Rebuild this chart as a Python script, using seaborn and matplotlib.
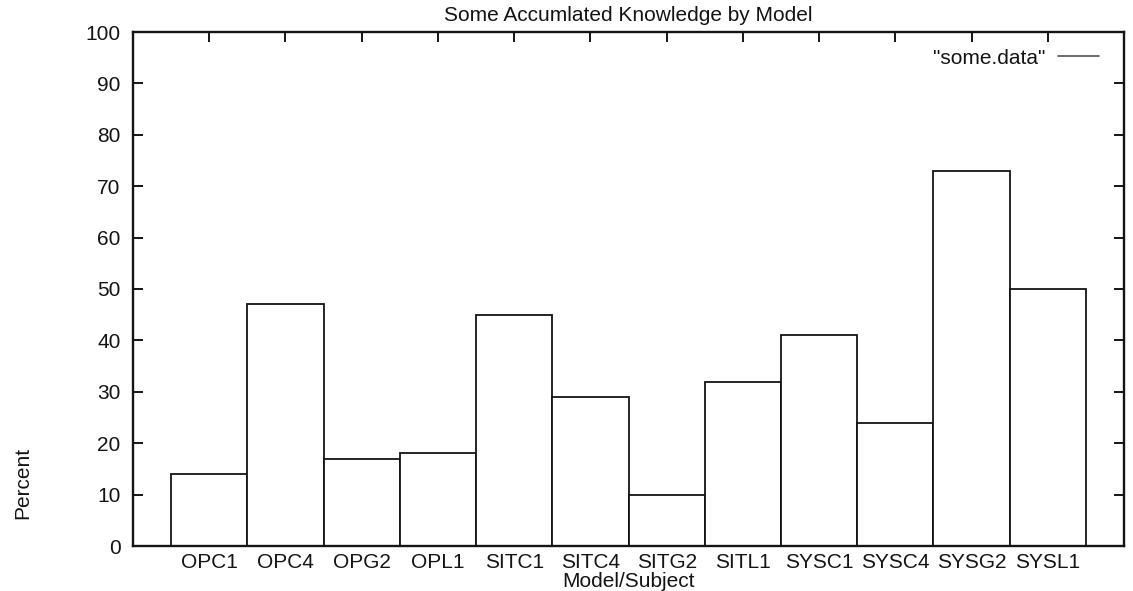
import matplotlib
matplotlib.use("Agg")
import matplotlib.pyplot as plt
from matplotlib.lines import Line2D
import seaborn as sns
import pandas as pd

# Accumulated knowledge per model/subject, in percent
models = ["OPC1", "OPC4", "OPG2", "OPL1", "SITC1", "SITC4",
          "SITG2", "SITL1", "SYSC1", "SYSC4", "SYSG2", "SYSL1"]
percent = [14, 47, 17, 18, 45, 29, 10, 32, 41, 24, 73, 50]
y_ticks = list(range(0, 101, 10))

df = pd.DataFrame({"model": models, "percent": percent})

sns.set_theme(style="ticks")
plt.rcParams["font.family"] = ["Liberation Sans", "DejaVu Sans"]
fs = 15

ink = "#141414"

fig = plt.figure(figsize=(11.33, 5.91), dpi=100)
ax = fig.add_axes([133 / 1133, 45 / 591, 991 / 1133, 514 / 591])

sns.barplot(data=df, x="model", y="percent", order=models, color="white",
            edgecolor=ink, linewidth=1.3, width=1.0, saturation=1, ax=ax)

ax.set_xlim(-1, 12)
ax.set_ylim(0, 100)
ax.set_yticks(y_ticks)
ax.set_yticklabels([str(t) for t in y_ticks])

for side in ax.spines.values():
    side.set_visible(True)
    side.set_linewidth(1.7)
    side.set_color(ink)

ax.tick_params(axis="both", direction="in", length=7, width=1.4, color=ink,
               top=True, right=True, labelcolor=ink, labelsize=fs)
ax.tick_params(axis="x", pad=5)
ax.tick_params(axis="y", pad=9)

ax.set_title("Some Accumlated Knowledge by Model", fontsize=fs,
             color=ink, pad=8)
ax.set_xlabel("Model/Subject", fontsize=fs, color=ink, labelpad=0)
ax.set_ylabel("Percent", fontsize=fs, color=ink)
ax.yaxis.set_label_coords(-0.102, 0.123)

handle = Line2D([], [], color="#555555", linewidth=1.2)
ax.legend([handle], ['"some.data"'], loc="upper right", frameon=False,
          markerfirst=False, handlelength=2.0, handletextpad=0.6,
          fontsize=fs, borderaxespad=0.4, labelcolor=ink,
          bbox_to_anchor=(1 - 8 / 991, 1))

fig.savefig("out.png", dpi=100, facecolor="white")
